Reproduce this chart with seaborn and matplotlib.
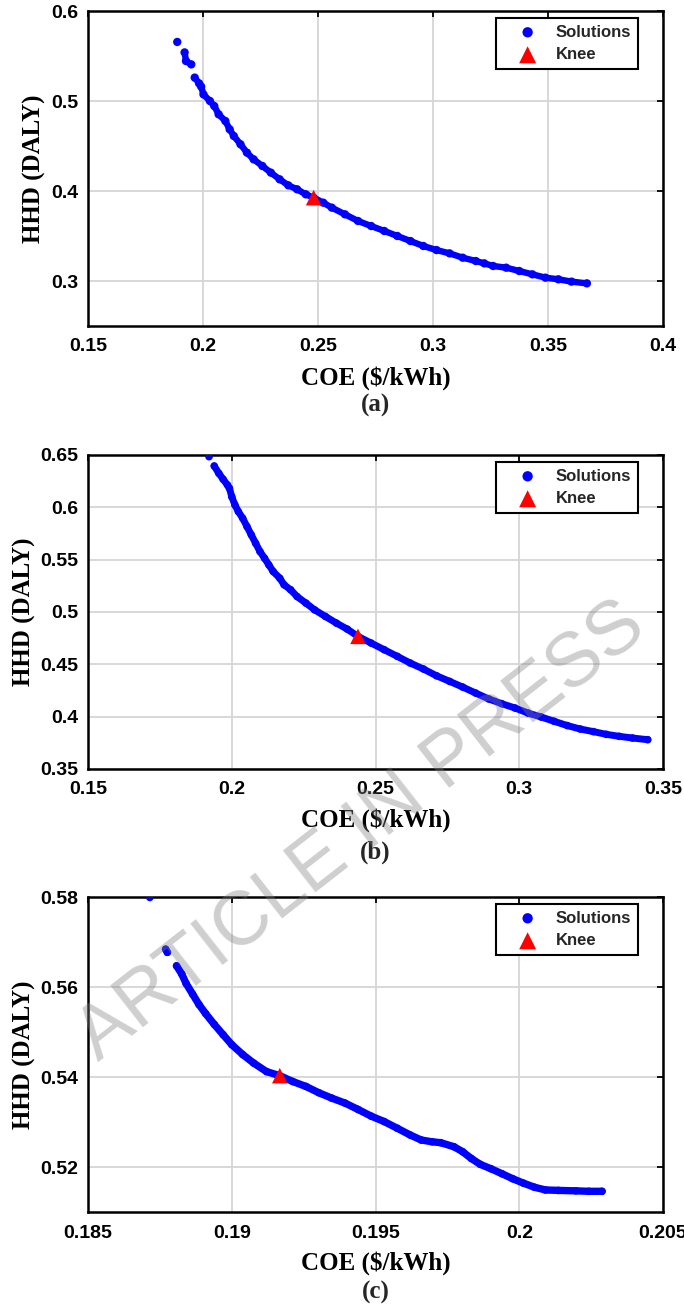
import matplotlib
matplotlib.use("Agg")
import matplotlib.pyplot as plt
import seaborn as sns
import pandas as pd

# ---------------- data ----------------
# Panel (a)
a_coe = [0.1888, 0.1920, 0.1926, 0.1949, 0.1964, 0.1983, 0.1992, 0.2002, 0.2030, 0.2049,
         0.2068, 0.2097, 0.2116, 0.2134, 0.2163, 0.2191, 0.2220, 0.2258, 0.2295, 0.2333,
         0.2371, 0.2409, 0.2447, 0.2481, 0.2523, 0.2560, 0.2617, 0.2674, 0.2731, 0.2788,
         0.2845, 0.2902, 0.2958, 0.3015, 0.3072, 0.3129, 0.3186, 0.3223, 0.3261, 0.3318,
         0.3375, 0.3432, 0.3489, 0.3545, 0.3602, 0.3669]
a_hhd = [0.5656, 0.5540, 0.5444, 0.5407, 0.5260, 0.5196, 0.5160, 0.5074, 0.5000, 0.4944,
         0.4852, 0.4778, 0.4685, 0.4611, 0.4519, 0.4426, 0.4352, 0.4278, 0.4204, 0.4130,
         0.4063, 0.4019, 0.3963, 0.3926, 0.3870, 0.3815, 0.3741, 0.3667, 0.3611, 0.3556,
         0.3500, 0.3444, 0.3389, 0.3344, 0.3307, 0.3259, 0.3222, 0.3196, 0.3167, 0.3148,
         0.3111, 0.3074, 0.3037, 0.3019, 0.2993, 0.2974]
a_group = [0, 1, 1, 1, 2, 2, 2, 2, 2, 2, 2, 2, 2, 2, 2, 2, 2, 2, 2, 2, 2, 2, 2, 2, 2, 2,
           2, 2, 2, 2, 2, 2, 2, 2, 2, 2, 2, 2, 2, 2, 2, 2, 2, 2, 2, 2]
a_knee_coe = [0.2481]
a_knee_hhd = [0.3926]

# Panel (b)
b_coe = [0.1921, 0.1939, 0.1955, 0.1970, 0.1985, 0.1992, 0.2000, 0.2011, 0.2023, 0.2038,
         0.2053, 0.2068, 0.2083, 0.2098, 0.2114, 0.2129, 0.2144, 0.2167, 0.2182, 0.2205,
         0.2227, 0.2258, 0.2288, 0.2326, 0.2364, 0.2402, 0.2439, 0.2485, 0.2530, 0.2576,
         0.2621, 0.2667, 0.2712, 0.2758, 0.2803, 0.2848, 0.2894, 0.2939, 0.2985, 0.3030,
         0.3076, 0.3121, 0.3167, 0.3212, 0.3258, 0.3303, 0.3348, 0.3394, 0.3447]
b_hhd = [0.6484, 0.6395, 0.6325, 0.6268, 0.6214, 0.6182, 0.6102, 0.6023, 0.5959, 0.5896,
         0.5816, 0.5737, 0.5657, 0.5578, 0.5514, 0.5450, 0.5387, 0.5323, 0.5260, 0.5212,
         0.5148, 0.5085, 0.5021, 0.4957, 0.4894, 0.4836, 0.4767, 0.4703, 0.4640, 0.4576,
         0.4512, 0.4455, 0.4391, 0.4337, 0.4283, 0.4226, 0.4169, 0.4124, 0.4083, 0.4035,
         0.3997, 0.3956, 0.3915, 0.3882, 0.3857, 0.3831, 0.3812, 0.3796, 0.3780]
b_group = [0, 1, 1, 1, 1, 1, 1, 1, 1, 1, 1, 1, 1, 1, 1, 1, 1, 1, 1, 1, 1, 1, 1, 1, 1,
           1, 1, 1, 1, 1, 1, 1, 1, 1, 1, 1, 1, 1, 1, 1, 1, 1, 1, 1, 1, 1, 1, 1, 1]
b_knee_coe = [0.2439]
b_knee_hhd = [0.4767]

# Panel (c)
c_coe = [0.18715, 0.18770, 0.18776, 0.18808, 0.18826, 0.18841, 0.18864, 0.18886, 0.18909,
         0.18939, 0.18970, 0.19000, 0.19038, 0.19076, 0.19121, 0.19167, 0.19212, 0.19258,
         0.19303, 0.19348, 0.19394, 0.19439, 0.19485, 0.19530, 0.19576, 0.19621, 0.19659,
         0.19697, 0.19727, 0.19773, 0.19803, 0.19833, 0.19864, 0.19902, 0.19940, 0.19977,
         0.20015, 0.20053, 0.20091, 0.20136, 0.20197, 0.20242, 0.20288]
c_hhd = [0.5799, 0.5684, 0.5677, 0.5647, 0.5629, 0.5608, 0.5584, 0.5561, 0.5541,
         0.5517, 0.5494, 0.5472, 0.5450, 0.5431, 0.5412, 0.5403, 0.5390, 0.5379,
         0.5365, 0.5353, 0.5342, 0.5328, 0.5313, 0.5301, 0.5286, 0.5271, 0.5260,
         0.5256, 0.5254, 0.5245, 0.5234, 0.5219, 0.5206, 0.5196, 0.5185, 0.5174,
         0.5164, 0.5155, 0.5149, 0.5148, 0.5147, 0.5146, 0.5146]
c_group = [0, 1, 1, 2, 2, 2, 2, 2, 2, 2, 2, 2, 2, 2, 2, 2, 2, 2, 2, 2, 2, 2, 2, 2, 2,
           2, 2, 2, 2, 2, 2, 2, 2, 2, 2, 2, 2, 2, 2, 2, 2, 2, 2]
c_knee_coe = [0.19167]
c_knee_hhd = [0.5403]

# axes ticks / labels
a_xticks = [0.15, 0.2, 0.25, 0.3, 0.35, 0.4]
a_xticklabels = ["0.15", "0.2", "0.25", "0.3", "0.35", "0.4"]
a_yticks = [0.3, 0.4, 0.5, 0.6]
a_yticklabels = ["0.3", "0.4", "0.5", "0.6"]

b_xticks = [0.15, 0.2, 0.25, 0.3, 0.35]
b_xticklabels = ["0.15", "0.2", "0.25", "0.3", "0.35"]
b_yticks = [0.35, 0.4, 0.45, 0.5, 0.55, 0.6, 0.65]
b_yticklabels = ["0.35", "0.4", "0.45", "0.5", "0.55", "0.6", "0.65"]

c_xticks = [0.185, 0.19, 0.195, 0.2, 0.205]
c_xticklabels = ["0.185", "0.19", "0.195", "0.2", "0.205"]
c_yticks = [0.52, 0.54, 0.56, 0.58]
c_yticklabels = ["0.52", "0.54", "0.56", "0.58"]

series_names = ["Solutions", "Knee"]
panel_tags = ["(a)", "(b)", "(c)"]
x_title = "COE ($/kWh)"
y_title = "HHD (DALY)"
watermark = "ARTICLE IN PRESS"

# ---------------- drawing ----------------
sns.set_theme(style="white")
plt.rcParams["font.family"] = ["Liberation Sans", "DejaVu Sans"]

W, H = 684, 1310
fig = plt.figure(figsize=(W / 100, H / 100), dpi=100)

BLUE = "#0000FF"
RED = "#FF0000"

panels = [
    dict(coe=a_coe, hhd=a_hhd, grp=a_group, kc=a_knee_coe, kh=a_knee_hhd,
         xt=a_xticks, xtl=a_xticklabels, yt=a_yticks, ytl=a_yticklabels,
         xlim=(0.15, 0.4), ylim=(0.25, 0.6),
         top=11, bottom=326, ylab_x=34, xlab_dy=52, tag_dy=79, lw=4.6, s=36, tag=panel_tags[0]),
    dict(coe=b_coe, hhd=b_hhd, grp=b_group, kc=b_knee_coe, kh=b_knee_hhd,
         xt=b_xticks, xtl=b_xticklabels, yt=b_yticks, ytl=b_yticklabels,
         xlim=(0.15, 0.35), ylim=(0.35, 0.65),
         top=455, bottom=769, ylab_x=24, xlab_dy=51, tag_dy=83, lw=5.0, s=30, tag=panel_tags[1]),
    dict(coe=c_coe, hhd=c_hhd, grp=c_group, kc=c_knee_coe, kh=c_knee_hhd,
         xt=c_xticks, xtl=c_xticklabels, yt=c_yticks, ytl=c_yticklabels,
         xlim=(0.185, 0.205), ylim=(0.51, 0.58),
         top=897, bottom=1212, ylab_x=24, xlab_dy=51, tag_dy=80, lw=5.3, s=30, tag=panel_tags[2]),
]

left_px, right_px = 88, 663
serif = ["Liberation Serif", "DejaVu Serif"]

for p in panels:
    hpx = p["bottom"] - p["top"]
    ax = fig.add_axes([left_px / W, 1 - p["bottom"] / H, (right_px - left_px) / W, hpx / H])
    df = pd.DataFrame({"COE": p["coe"], "HHD": p["hhd"], "grp": p["grp"]})
    kdf = pd.DataFrame({"COE": p["kc"], "HHD": p["kh"]})

    sns.lineplot(data=df, x="COE", y="HHD", units="grp", estimator=None, sort=False,
                 color=BLUE, lw=p["lw"], ax=ax, zorder=2, legend=False)
    sns.scatterplot(data=df, x="COE", y="HHD", color=BLUE, s=p["s"], edgecolor="none",
                    ax=ax, zorder=3, label=series_names[0])
    sns.scatterplot(data=kdf, x="COE", y="HHD", color=RED, marker="^", s=125,
                    edgecolor="none", ax=ax, zorder=4, label=series_names[1])

    ax.set_xlim(*p["xlim"])
    ax.set_ylim(*p["ylim"])
    ax.set_xticks(p["xt"])
    ax.set_xticklabels(p["xtl"])
    ax.set_yticks(p["yt"])
    ax.set_yticklabels(p["ytl"])
    ax.grid(True, color="#d6d6d6", lw=1.3, zorder=0)
    ax.set_axisbelow(True)
    for sp in ax.spines.values():
        sp.set_visible(True)
        sp.set_color("black")
        sp.set_linewidth(1.8)
    ax.tick_params(axis="both", direction="in", length=4.5, width=1.3, color="black",
                   top=True, right=True, labelsize=14, labelcolor="black")
    ax.tick_params(axis="x", pad=9.0)
    ax.tick_params(axis="y", pad=7.0)
    for lab in ax.get_xticklabels() + ax.get_yticklabels():
        lab.set_fontweight("bold")

    ax.set_xlabel(x_title, family=serif, fontweight="bold", fontsize=18, va="center", color="black")
    ax.xaxis.set_label_coords(0.5, -p["xlab_dy"] / hpx)
    ax.set_ylabel(y_title, family=serif, fontweight="bold", fontsize=18, va="center", color="black")
    ax.yaxis.set_label_coords((p["ylab_x"] - left_px) / (right_px - left_px), 0.5)

    ax.annotate(p["tag"], xy=(0.5, 0), xycoords="axes fraction",
                xytext=(0, -p["tag_dy"] * 0.72), textcoords="offset points",
                ha="center", va="center", family=serif, fontweight="bold", fontsize=18)

    leg = ax.legend(loc="upper right", bbox_to_anchor=(1 - 25 / 575, 1 - 7 / hpx),
                    borderaxespad=0, frameon=True, fancybox=False, edgecolor="black",
                    framealpha=1, handlelength=3.0, handletextpad=0.2,
                    borderpad=0.4, labelspacing=0.45,
                    prop={"weight": "bold", "size": 12})
    leg.get_frame().set_linewidth(1.5)
    leg.set_zorder(5)
    hs = leg.legend_handles
    hs[0].set_sizes([55])
    hs[1].set_sizes([150])

fig.text(362 / W, 1 - 832 / H, watermark, rotation=38, ha="center", va="center",
         fontsize=55, color="#808080", alpha=0.38, family=["Liberation Sans", "DejaVu Sans"],
         zorder=10)

fig.savefig("out.png", dpi=100)
